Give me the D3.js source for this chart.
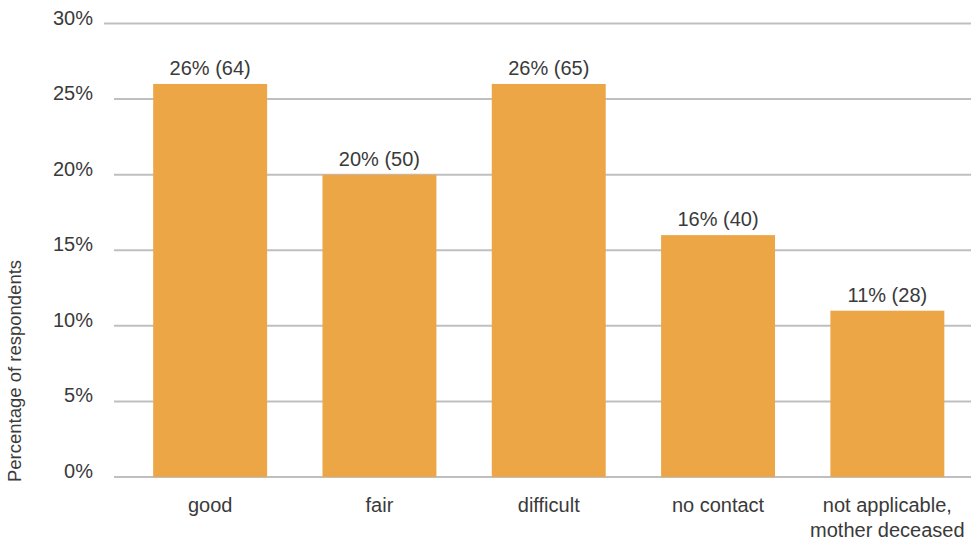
<!DOCTYPE html>
<html>
<head>
<meta charset="utf-8">
<script src="https://cdn.jsdelivr.net/npm/d3@7"></script>
<style>
  html, body { margin: 0; padding: 0; background: #fff; }
  svg { display: block; }
  text { font-family: "Liberation Sans", Arial, Helvetica, sans-serif; fill: #3a3a3a; }
</style>
</head>
<body>
<svg id="chart" width="971" height="542"></svg>
<script>
const categories = ["good", "fair", "difficult", "no contact", "not applicable,\nmother deceased"];
const percentages = [26, 20, 26, 16, 11];
const counts = [64, 50, 65, 40, 28];
const yTicks = [0, 5, 10, 15, 20, 25, 30];
const yTitle = "Percentage of respondents";

const svg = d3.select("#chart");

const x = d3.scaleBand().domain(categories).range([125.5, 972]).paddingInner(0.327).paddingOuter(0.1635);
const y = d3.scaleLinear().domain([0, 30]).range([477, 23.5]);

// gridlines
svg.append("g").selectAll("line").data(yTicks).join("line")
  .attr("x1", d => d === 30 ? 104 : 114)
  .attr("x2", 971)
  .attr("y1", d => y(d)).attr("y2", d => y(d))
  .attr("stroke", "#bfbfc2").attr("stroke-width", 2);

// y tick labels
svg.append("g").selectAll("text").data(yTicks).join("text")
  .attr("x", 93).attr("y", d => y(d) + 1)
  .attr("text-anchor", "end")
  .attr("font-size", 20)
  .text(d => d + "%");

// bars
svg.append("g").selectAll("rect").data(categories).join("rect")
  .attr("x", d => x(d))
  .attr("width", x.bandwidth())
  .attr("y", (d, i) => y(percentages[i]))
  .attr("height", (d, i) => y(0) - y(percentages[i]))
  .attr("fill", "#eda646");

// value labels
svg.append("g").selectAll("text").data(categories).join("text")
  .attr("x", d => x(d) + x.bandwidth() / 2)
  .attr("y", (d, i) => y(percentages[i]) - 9)
  .attr("text-anchor", "middle")
  .attr("font-size", 20)
  .text((d, i) => percentages[i] + "% (" + counts[i] + ")");

// category labels
const cat = svg.append("g").selectAll("text").data(categories).join("text")
  .attr("x", d => x(d) + x.bandwidth() / 2)
  .attr("y", 512)
  .attr("text-anchor", "middle")
  .attr("font-size", 20);
cat.each(function(d) {
  const lines = d.split("\n");
  const t = d3.select(this);
  lines.forEach((l, i) => {
    t.append("tspan").attr("x", x(d) + x.bandwidth() / 2).attr("dy", i === 0 ? 0 : 25).text(l);
  });
});

// y title
svg.append("text")
  .attr("transform", "translate(21," + 371 + ") rotate(-90)")
  .attr("text-anchor", "middle")
  .attr("font-size", 18.5)
  .text(yTitle);
</script>
</body>
</html>
